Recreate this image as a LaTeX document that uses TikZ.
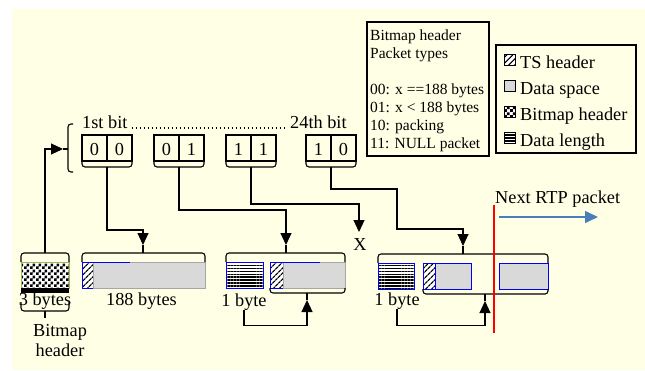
\documentclass[tikz,border=0pt]{standalone}
\usepackage{fontspec}
\setmainfont{Liberation Serif}
\usetikzlibrary{arrows.meta,patterns,patterns.meta}

\definecolor{bgyellow}{RGB}{255,255,230}
\definecolor{dgray}{RGB}{217,217,217}
\definecolor{bmgreen}{RGB}{155,187,89}
\definecolor{rtpblue}{RGB}{74,126,187}

% checkerboard for the bitmap header
\pgfdeclarepatternformonly{chk}{\pgfqpoint{0pt}{0pt}}{\pgfqpoint{6pt}{6pt}}{\pgfqpoint{6pt}{6pt}}{%
  \pgfpathrectangle{\pgfqpoint{0pt}{0pt}}{\pgfqpoint{3pt}{3pt}}%
  \pgfpathrectangle{\pgfqpoint{3pt}{3pt}}{\pgfqpoint{3pt}{3pt}}%
  \pgfusepath{fill}}

\tikzset{
  lbl/.style={font=\fontsize{18.3}{20}\selectfont, inner sep=0pt},
  small/.style={font=\fontsize{15.5}{18}\selectfont, inner sep=0pt},
  wire/.style={line width=1.1pt},
  arr/.style={wire, -{Triangle[length=12pt,width=11pt]}},
  brk/.style={wire, rounded corners=3pt},
  dotline/.style={line width=1.3pt, dash pattern=on 1.3pt off 2.7pt},
  tshdr/.style={preaction={fill=white}, pattern color=black,
    pattern={Lines[angle=45,distance=4pt,line width=1.3pt]}},
  dlen/.style={preaction={fill=white}, pattern color=black,
    pattern={Lines[distance=2.9pt,line width=1.5pt]}},
  bmhdr/.style={preaction={fill=white}, pattern color=black, pattern=chk},
  dspace/.style={fill=dgray},
  legbox/.style={line width=1.2pt}
}

\begin{document}
\begin{tikzpicture}[x=1pt, y=-1pt]
  \useasboundingbox (0,0) rectangle (645,370);
  \fill[bgyellow] (12,9) rectangle (645,370);

  % legends
  \draw[legbox] (367,22) rectangle (489,156);
  \foreach \y/\t in {40/Bitmap header, 58/Packet types, 94/00: x ==188 bytes,
                     112/01: x < 188 bytes, 130/10: packing, 148/11: NULL packet}
    \node[small, anchor=base west] at (370,\y) {\t};
  \draw[legbox] (496,45) rectangle (636,153);
  \foreach \y/\p/\t in {62/tshdr/TS header, 88/dspace/Data space,
                        114/bmhdr/Bitmap header, 140/dlen/Data length}{
    \draw[\p, line width=0.8pt] (504,\y-8) rectangle (515,\y+3);
    \node[lbl, anchor=base west] at (520,\y+6) {\t};
  }

  % bit fields
  \node[lbl, anchor=base west] (first) at (82,128) {1st bit};
  \node[lbl, anchor=base west] (last) at (290,128) {24th bit};
  \draw[dotline] ([xshift=4pt]first.base east) -- ([xshift=-4pt]last.base west);
  \foreach \x/\l/\r/\n in {82/0/0/b1, 154/0/1/b2, 226/1/1/b3, 306/1/0/b4}{
    \draw[wire] (\x,135) rectangle (\x+50,161);
    \draw[wire] (\x+25,135) -- (\x+25,161);
    \draw[brk] (\x,161) |- (\x+25,167) -| (\x+50,161);
    \node[lbl, anchor=base] at (\x+12.5,155) {\l};
    \node[lbl, anchor=base] at (\x+37.5,155) {\r};
    \coordinate (\n) at (\x+25,167);
  }
  \draw[brk] (73,124) -| (68,172) -- (73,172);

  % bitmap header block
  \draw[bmhdr, draw=bmgreen, line width=1pt] (21,262) rectangle (69,288);
  \fill (21,288) rectangle (69,293);
  \draw[brk] (21,262) |- (45,253) -| (69,262);
  \node[lbl, anchor=base] at (45,305) {3 bytes};
  \draw[brk] (21,302) |- (45,311) -| (69,302);
  \draw[wire] (45,311) -- (45,318);
  \node[lbl, anchor=base] at (60,336) {Bitmap};
  \node[lbl, anchor=base] at (60,356) {header};
  \coordinate (p0) at (45,253);
  \coordinate (t0) at (63,149);
  \draw[arr] (p0) |- (t0);
  \draw[wire] (68,149) -- (t0);

  % packet 00
  \draw[tshdr, draw=blue, line width=1pt] (82,262) rectangle (93,288);
  \draw[dspace, draw=gray!70, line width=1pt] (93,262) rectangle (205,288);
  \draw[blue, line width=1pt] (93,262) -- (130,262);
  \draw[brk] (82,262) |- (143,253) -| (205,262);
  \node[lbl, anchor=base] at (141.5,305) {188 bytes};
  \coordinate (p1) at (143,253);
  \coordinate (t1) at (143,245);

  % packet 01
  \draw[dlen, draw=blue, line width=1pt] (226,262) rectangle (263,288);
  \draw[tshdr, draw=blue, line width=1pt] (270,262) rectangle (283,288);
  \draw[dspace, draw=gray!70, line width=1pt] (283,262) rectangle (345,288);
  \draw[blue, line width=1pt] (283,262) -- (320,262);
  \draw[brk] (226,262) |- (286,253) -| (345,262);
  \draw[brk] (270,288) |- (307,293) -| (345,288);
  \node[lbl, anchor=base] (n2) at (244,306) {1 byte};
  \coordinate (p2) at (286,253);
  \coordinate (t2) at (286,245);
  \coordinate (q2) at (307,293);
  \coordinate (u2) at (307,300);

  % packet 11
  \coordinate (tx) at (359,232);
  \node[lbl, anchor=base] at (360,250) {X};

  % packet 10
  \draw[dlen, draw=blue, line width=1pt] (378,263) rectangle (414,289);
  \draw[tshdr] (423,263) rectangle (435,289);
  \draw[dspace] (435,263) rectangle (471,289);
  \draw[blue, line width=1pt] (423,263) rectangle (471,289);
  \draw[blue, line width=1pt] (435,263) -- (435,289);
  \draw[dspace, draw=blue, line width=1pt] (499,263) rectangle (548,289);
  \draw[brk] (378,263) |- (463,254) -| (548,263);
  \draw[brk] (423,289) |- (485,294) -| (548,289);
  \node[lbl, anchor=base] (n3) at (397,305) {1 byte};
  \coordinate (p3) at (463,254);
  \coordinate (t3) at (463,246);
  \coordinate (q3) at (485,294);
  \coordinate (u3) at (485,301);

  % connectors
  \draw[arr] (b1) -- ++(0,63) -| (t1);
  \draw[wire] (t1) -- (p1);
  \draw[arr] (b2) -- ++(0,43) -| (t2);
  \draw[wire] (t2) -- (p2);
  \draw[arr] (b3) -- ++(0,37) -| (tx);
  \draw[arr] (b4) -- ++(0,22) -| ++(66,40) -| (t3);
  \draw[wire] (t3) -- (p3);
  \draw[arr] (n2.south) -- ++(0,15) -| (u2);
  \draw[wire] (u2) -- (q2);
  \draw[arr] (n3.south) -- ++(0,16) -| (u3);
  \draw[wire] (u3) -- (q3);

  % next packet
  \draw[red, line width=1.2pt] (494,205) -- (494,333);
  \node[lbl, anchor=base west] (nrtp) at (495,203) {Next RTP packet};
  \draw[rtpblue, line width=1.5pt, -{Triangle[length=13pt,width=12pt]}] (499,217) -- (598,217);
\end{tikzpicture}
\end{document}
